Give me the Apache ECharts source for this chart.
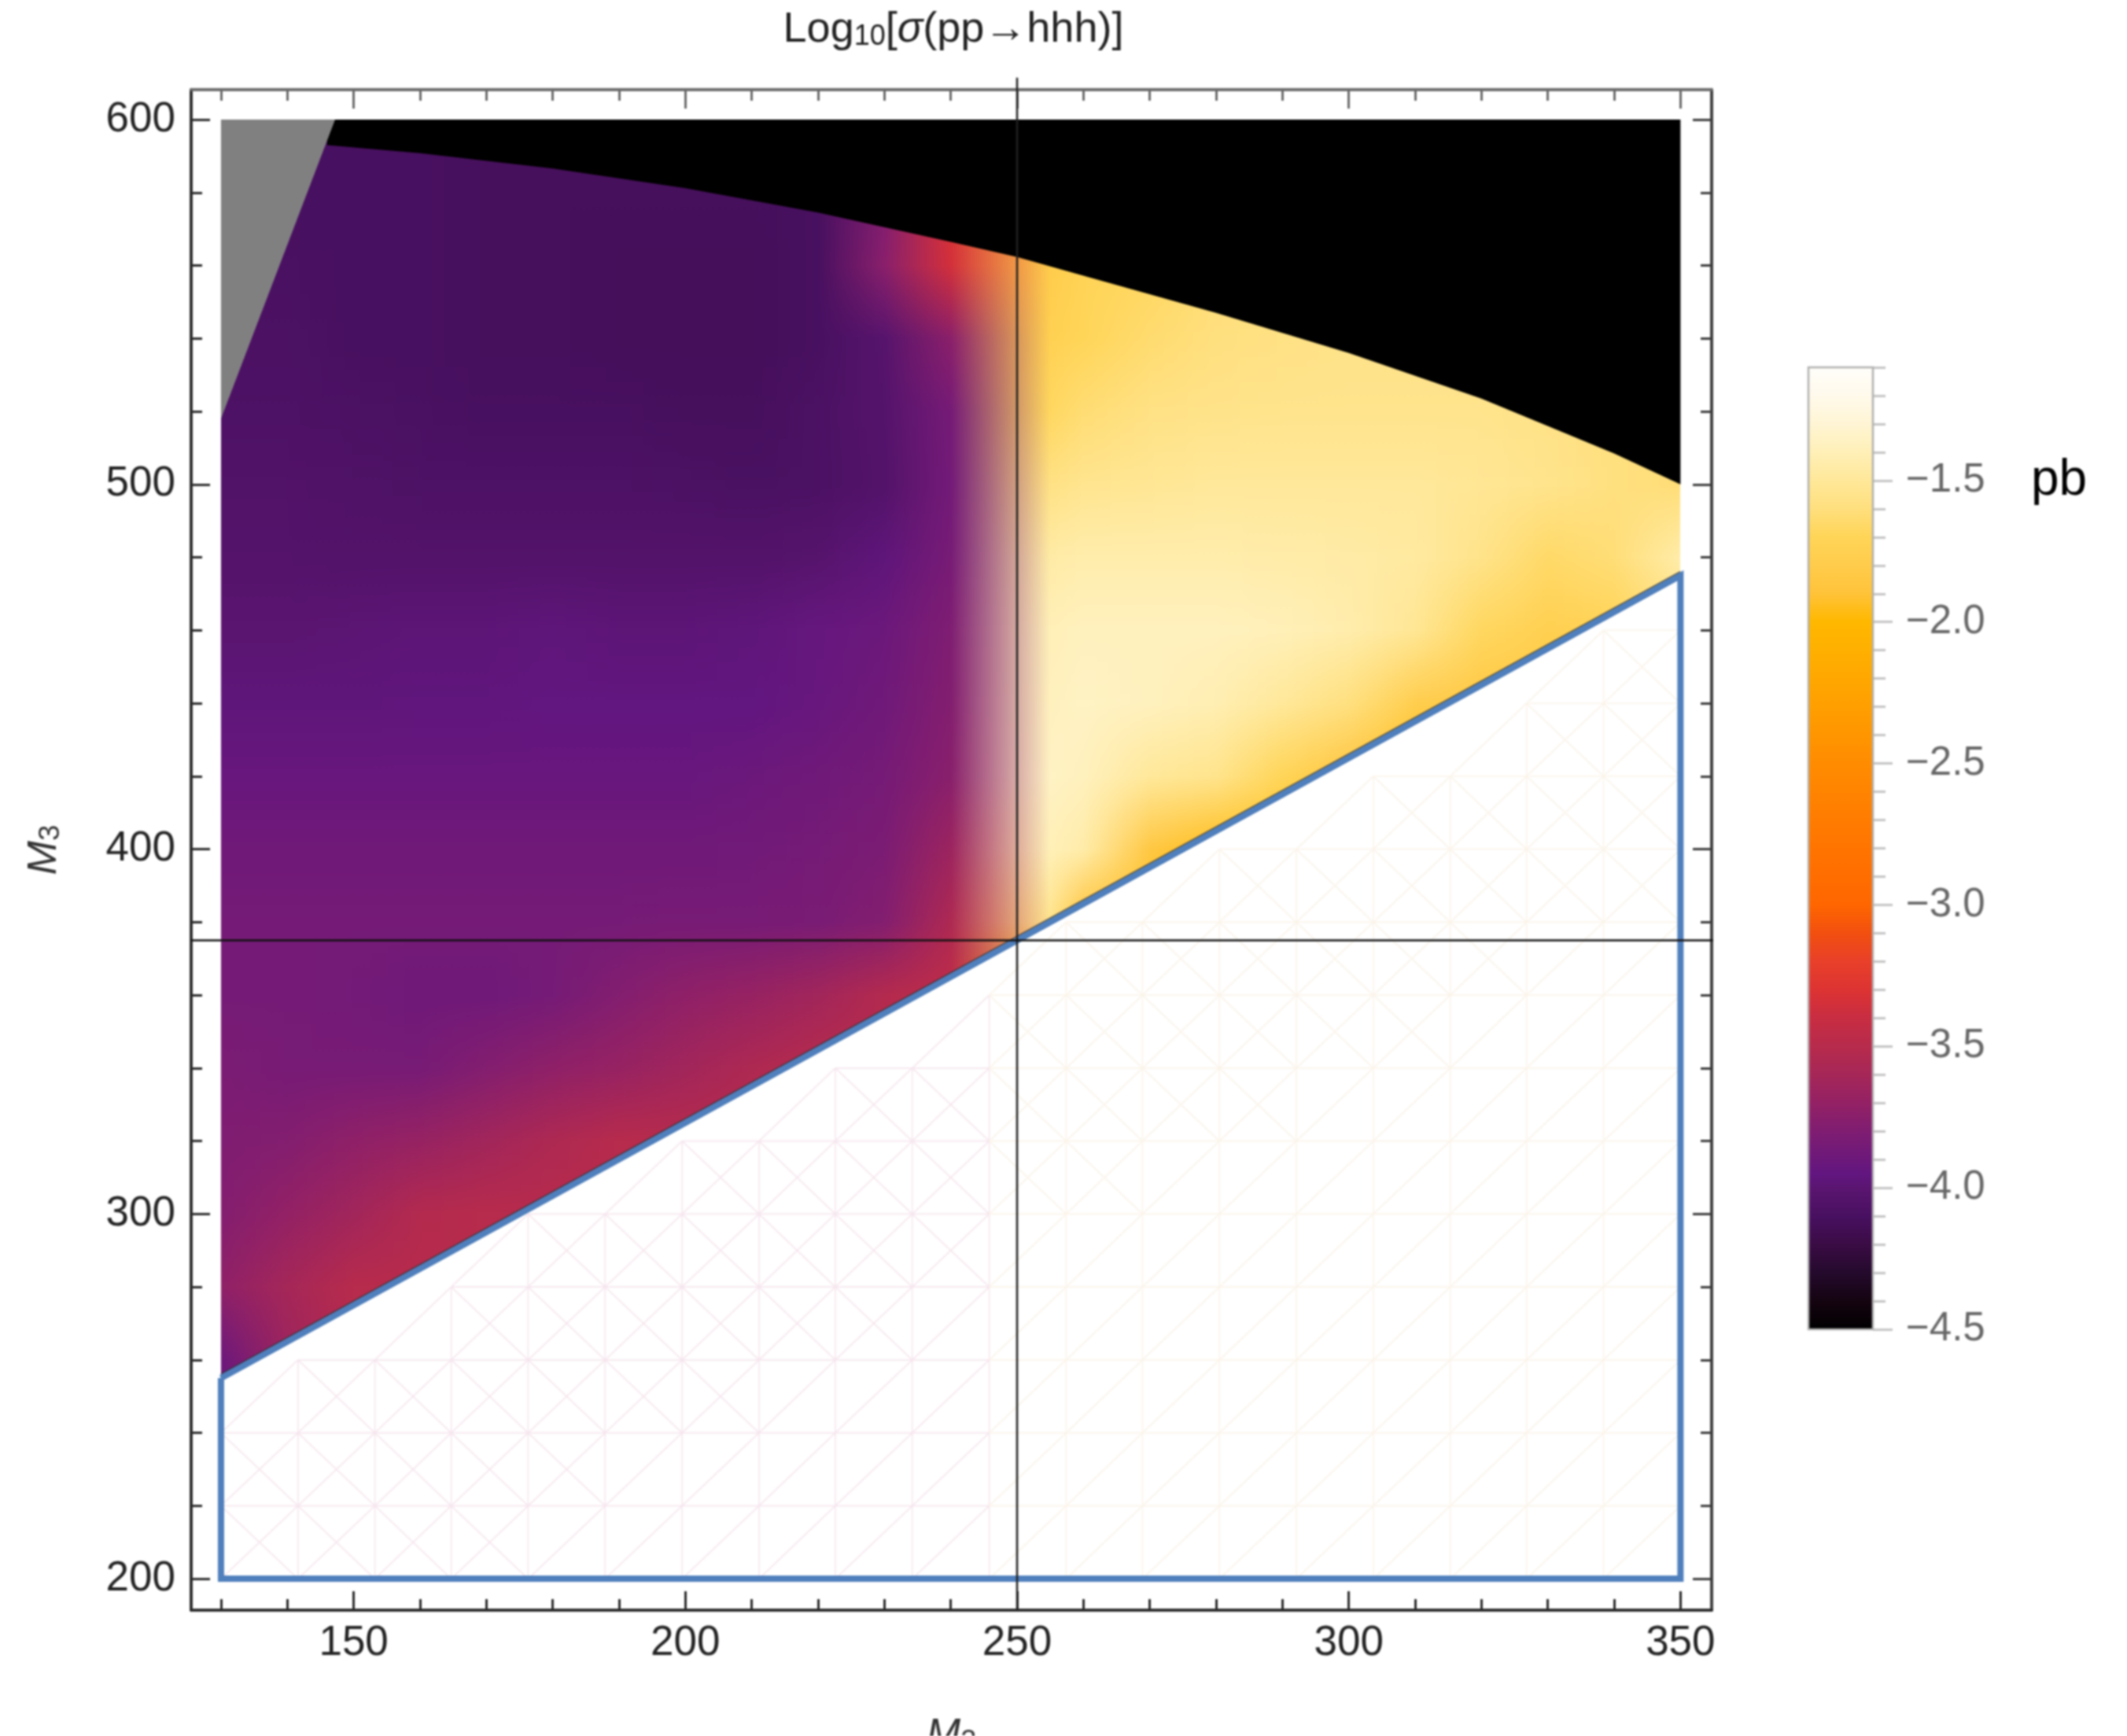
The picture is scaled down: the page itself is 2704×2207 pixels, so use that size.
<!DOCTYPE html>
<html><head><meta charset="utf-8">
<style>html,body{margin:0;padding:0;background:#fff}#chart{width:2704px;height:2207px;filter:blur(1.3px)}</style>
<script src="https://cdn.jsdelivr.net/npm/echarts@6/dist/echarts.min.js"></script>
</head><body><div id="chart"></div>
<script>
// ---- axis ticks
const xMajorTicks=[150,200,250,300,350];
const xMinorTicks=[130,140,160,170,180,190,210,220,230,240,260,270,280,290,310,320,330,340];
const yMajorTicks=[200,300,400,500,600];
const yMinorTicks=[220,240,260,280,320,340,360,380,420,440,460,480,520,540,560,580];
const cbMajorTicks=[-4.5,-4,-3.5,-3,-2.5,-2,-1.5];
const cbMinorTicks=[-4.4,-4.3,-4.2,-4.1,-3.9,-3.8,-3.7,-3.6,-3.4,-3.3,-3.2,-3.1,-2.9,-2.8,-2.7,-2.6,-2.4,-2.3,-2.2,-2.1,-1.9,-1.8,-1.7,-1.6,-1.4,-1.3,-1.2,-1.1];
// ---- colour scale
const scaleValues=[-4.5,-4.4,-4.3,-4.2,-4.1,-4.0,-3.95,-3.8,-3.7,-3.6,-3.5,-3.4,-3.3,-3.2,-3.1,-3.0,-2.75,-2.5,-2.3,-2.1,-2.0,-1.9,-1.8,-1.7,-1.6,-1.5,-1.4,-1.3,-1.2,-1.1];
const scaleColors=['#000000','#140410','#240a2c','#3a0c44','#481060','#5a1570','#621680','#7f1d72','#932165','#a52758','#b72b4c','#c82d42','#dd3333','#e8402a','#f24f10','#ff6600','#ff7800','#ff8c00','#ff9f00','#ffb000','#ffb800','#ffc33a','#ffcc4c','#ffd558','#ffe07f','#ffe89a','#fff0b8','#fff5d5','#fffaec','#fffefa'];
// ---- cross-section: log10 sigma at (M2, M3)
const m2Nodes=[130,140,150,160,170,180,190,200,210,220,230,240,255,260,270,280,290,300,310,320,330,340,350];
const m3Nodes=[600,580,560,540,520,500,480,460,440,420,400,380,360,340,320,300,280,260,240];
const sigma600=[-4.1,-4.1,-4.1,-4.1,-4.11,-4.11,-4.11,-4.11,-4.11,-4.1,-3.8,-3.3,-1.85,-1.75,-1.7,-1.65,-1.65,-1.65,-1.65,-1.65,-1.65,-1.65,-1.65];
const sigma580=[-4.1,-4.1,-4.1,-4.1,-4.11,-4.11,-4.11,-4.11,-4.11,-4.1,-3.8,-3.3,-1.85,-1.75,-1.7,-1.65,-1.65,-1.65,-1.65,-1.65,-1.65,-1.65,-1.65];
const sigma560=[-4.09,-4.09,-4.1,-4.1,-4.11,-4.11,-4.12,-4.12,-4.12,-4.1,-3.75,-3.35,-1.8,-1.72,-1.68,-1.62,-1.6,-1.6,-1.6,-1.6,-1.6,-1.6,-1.6];
const sigma540=[-4.08,-4.08,-4.1,-4.1,-4.11,-4.11,-4.12,-4.12,-4.12,-4.1,-4.02,-3.74,-1.75,-1.7,-1.64,-1.6,-1.58,-1.56,-1.56,-1.56,-1.58,-1.6,-1.6];
const sigma520=[-4.07,-4.07,-4.08,-4.09,-4.1,-4.1,-4.1,-4.11,-4.11,-4.08,-4.03,-3.85,-1.68,-1.63,-1.58,-1.56,-1.55,-1.55,-1.55,-1.55,-1.57,-1.6,-1.62];
const sigma500=[-4.05,-4.05,-4.06,-4.07,-4.07,-4.07,-4.07,-4.08,-4.09,-4.08,-4.04,-3.86,-1.58,-1.54,-1.52,-1.5,-1.5,-1.5,-1.5,-1.52,-1.55,-1.6,-1.62];
const sigma480=[-4.03,-4.03,-4.04,-4.04,-4.04,-4.04,-4.04,-4.04,-4.04,-4.02,-3.97,-3.84,-1.46,-1.44,-1.44,-1.44,-1.45,-1.46,-1.48,-1.56,-1.66,-1.62,-1.45];
const sigma460=[-4.0,-4.0,-3.99,-3.98,-3.98,-3.97,-3.98,-3.98,-3.97,-3.93,-3.9,-3.8,-1.4,-1.38,-1.38,-1.38,-1.4,-1.44,-1.52,-1.68,-1.76,-1.72,-1.6];
const sigma440=[-3.97,-3.97,-3.97,-3.96,-3.96,-3.95,-3.95,-3.95,-3.95,-3.92,-3.88,-3.78,-1.38,-1.36,-1.38,-1.42,-1.5,-1.6,-1.78,-1.85,-1.85,-1.85,-1.85];
const sigma420=[-3.92,-3.92,-3.92,-3.92,-3.92,-3.92,-3.92,-3.92,-3.9,-3.88,-3.85,-3.75,-1.36,-1.38,-1.5,-1.55,-1.7,-1.88,-1.95,-1.95,-1.95,-1.95,-1.95];
const sigma400=[-3.88,-3.88,-3.88,-3.88,-3.88,-3.88,-3.88,-3.88,-3.87,-3.85,-3.82,-3.65,-1.4,-1.45,-1.85,-1.95,-1.95,-1.95,-1.95,-1.95,-1.95,-1.95,-1.95];
const sigma380=[-3.85,-3.85,-3.85,-3.85,-3.85,-3.85,-3.85,-3.84,-3.84,-3.83,-3.78,-3.55,-1.55,-1.9,-1.95,-1.95,-1.95,-1.95,-1.95,-1.95,-1.95,-1.95,-1.95];
const sigma360=[-3.85,-3.85,-3.86,-3.88,-3.88,-3.85,-3.78,-3.72,-3.68,-3.62,-3.52,-3.45,-2.0,-2.0,-2.0,-2.0,-2.0,-2.0,-2.0,-2.0,-2.0,-2.0,-2.0];
const sigma340=[-3.82,-3.84,-3.84,-3.84,-3.78,-3.72,-3.68,-3.62,-3.55,-3.5,-3.5,-3.45,-2.0,-2.0,-2.0,-2.0,-2.0,-2.0,-2.0,-2.0,-2.0,-2.0,-2.0];
const sigma320=[-3.8,-3.78,-3.72,-3.68,-3.62,-3.55,-3.5,-3.5,-3.5,-3.5,-3.5,-3.45,-2.0,-2.0,-2.0,-2.0,-2.0,-2.0,-2.0,-2.0,-2.0,-2.0,-2.0];
const sigma300=[-3.78,-3.7,-3.62,-3.52,-3.5,-3.5,-3.5,-3.5,-3.5,-3.5,-3.5,-3.45,-2.0,-2.0,-2.0,-2.0,-2.0,-2.0,-2.0,-2.0,-2.0,-2.0,-2.0];
const sigma280=[-3.72,-3.6,-3.5,-3.5,-3.5,-3.5,-3.5,-3.5,-3.5,-3.5,-3.5,-3.45,-2.0,-2.0,-2.0,-2.0,-2.0,-2.0,-2.0,-2.0,-2.0,-2.0,-2.0];
const sigma260=[-3.9,-3.65,-3.5,-3.5,-3.5,-3.5,-3.5,-3.5,-3.5,-3.5,-3.5,-3.45,-2.0,-2.0,-2.0,-2.0,-2.0,-2.0,-2.0,-2.0,-2.0,-2.0,-2.0];
const sigma240=[-3.92,-3.7,-3.6,-3.5,-3.5,-3.5,-3.5,-3.5,-3.5,-3.5,-3.5,-3.45,-2.0,-2.0,-2.0,-2.0,-2.0,-2.0,-2.0,-2.0,-2.0,-2.0,-2.0];
const sigmaRows=[sigma600,sigma580,sigma560,sigma540,sigma520,sigma500,sigma480,sigma460,sigma440,sigma420,sigma400,sigma380,sigma360,sigma340,sigma320,sigma300,sigma280,sigma260,sigma240];
// ---- region outlines
const blackEdge=[[146,593],[160,590.8],[180,586.6],[200,581.2],[220,574.5],[240,566.5],[250,562.3],[260,557.2],[280,547],[300,536],[320,523.5],[340,508.5],[350,500],[350,600],[146,600]];
const grayRegion=[[130,600],[147.2,600],[130,518]];
const emptyRegion=[[130,255],[350,475],[350,198],[130,198]];
const blueOutline=[[130,255],[250,375],[350,475],[350,200],[130,200],[130,255]];
const darkEdge=[[130,256],[250,376],[350,476]];
const refVertical=[[250,191.4],[250,611.5]];
const refHorizontal=[[125.5,375],[355.5,375]];
const meshM2=[130,141.6,153.2,164.7,176.3,187.9,199.5,211.1,222.6,234.2,245.8,257.4,268.9,280.5,292.1,303.7,315.3,326.8,338.4,350];
const meshM3=[200,220,240,260,280,300,320,340,360,380,400,420,440,460,480];
const cbLabels={'-4.5':'−4.5','-4':'−4.0','-3.5':'−3.5','-3':'−3.0','-2.5':'−2.5','-2':'−2.0','-1.5':'−1.5'};

const hex=c=>[parseInt(c.slice(1,3),16),parseInt(c.slice(3,5),16),parseInt(c.slice(5,7),16)];
const scaleRgb=scaleColors.map(hex);
function colorOf(v){
  if(v<=scaleValues[0])return scaleRgb[0];
  for(let i=1;i<scaleValues.length;i++){
    if(v<=scaleValues[i]){
      const t=(v-scaleValues[i-1])/(scaleValues[i]-scaleValues[i-1]);
      return scaleRgb[i-1].map((a,k)=>a+(scaleRgb[i][k]-a)*t);
    }
  }
  return scaleRgb[scaleRgb.length-1];
}
const mix=(a,b,t)=>a.map((p,k)=>p+(b[k]-p)*t);
const css=c=>`rgb(${Math.round(c[0])},${Math.round(c[1])},${Math.round(c[2])})`;
const nodeRgb=sigmaRows.map(r=>r.map(colorOf));

// one item per mesh cell; each cell is shaded between its four read colours
const cellData=[];
for(let j=0;j<m3Nodes.length-1;j++)for(let i=0;i<m2Nodes.length-1;i++)cellData.push([m2Nodes[i],m3Nodes[j],i,j]);
function renderCell(params,api){
  const i=api.value(2),j=api.value(3);
  const p0=api.coord([m2Nodes[i],m3Nodes[j]]),p1=api.coord([m2Nodes[i+1],m3Nodes[j+1]]);
  const x0=Math.round(p0[0]),x1=Math.round(p1[0]),y0=Math.round(p0[1]),y1=Math.round(p1[1]);
  const kids=[];
  for(let x=x0;x<x1;x+=3){
    const w=Math.min(3,x1-x),t=(x+w/2-x0)/(x1-x0);
    const top=mix(nodeRgb[j][i],nodeRgb[j][i+1],t),bot=mix(nodeRgb[j+1][i],nodeRgb[j+1][i+1],t);
    kids.push({type:'rect',shape:{x,y:y0,width:w,height:y1-y0},
      style:{fill:{type:'linear',x:0,y:0,x2:0,y2:1,colorStops:[{offset:0,color:css(top)},{offset:1,color:css(bot)}]}},silent:true});
  }
  return {type:'group',children:kids};
}
function polygon(points,fill,z){
  return {type:'custom',xAxisIndex:0,yAxisIndex:0,z,silent:true,clip:false,data:[points[0]],
    renderItem:(p,api)=>({type:'polygon',shape:{points:points.map(q=>api.coord(q))},style:{fill}})};
}
function path(points,color,width,z,opacity){
  return {type:'line',xAxisIndex:0,yAxisIndex:0,data:points,z,silent:true,clip:false,symbol:'none',
    lineStyle:{color,width,opacity:opacity==null?1:opacity,join:'miter'}};
}
function renderMesh(p,api){
  const kids=[];
  const below=(x,y)=>y<=x+125-1;
  const add=(a,b,c,d)=>{
    if(!below(a,b)||!below(c,d))return;
    const s=api.coord([a,b]),e=api.coord([c,d]);
    const col=(a+c)/2<250?'#f6e6ee':'#fbf4ea';
    kids.push({type:'line',shape:{x1:s[0],y1:s[1],x2:e[0],y2:e[1]},style:{stroke:col,lineWidth:1.6}});
  };
  meshM2.forEach((x,i)=>meshM3.forEach((y,j)=>{
    const nx=meshM2[i+1],ny=meshM3[j+1];
    if(ny!=null)add(x,y,x,ny);
    if(nx!=null)add(x,y,nx,y);
    if(nx!=null&&ny!=null){
      add(x,y,nx,ny);
      if(ny>x+125-70)add(x,ny,nx,y);
    }
  }));
  return {type:'group',children:kids};
}
function renderBar(p,api){
  const a=api.coord([0,-1.1]),b=api.coord([1,-4.5]);
  const stops=scaleValues.map((v,i)=>({offset:(-1.1-v)/3.4,color:scaleColors[i]})).reverse();
  return {type:'rect',shape:{x:a[0],y:a[1],width:b[0]-a[0],height:b[1]-a[1]},
    style:{fill:{type:'linear',x:0,y:0,x2:0,y2:1,colorStops:stops},stroke:'#b0b0b0',lineWidth:2.5}};
}
const labelFont='"Liberation Sans",Arial,sans-serif';
function xAxis(position,ticks,len,show,lineColor){
  return {type:'value',gridIndex:0,position,min:125.5,max:354.7,splitLine:{show:false},
    axisLine:{show:true,onZero:false,lineStyle:{color:lineColor,width:3.5}},
    axisTick:{show:true,inside:true,length:len,customValues:ticks,lineStyle:{color:lineColor,width:3}},
    axisLabel:{show,customValues:ticks,margin:16,fontFamily:labelFont,fontSize:53,color:'#222',hideOverlap:false,formatter:v=>String(v)}};
}
function yAxis(position,ticks,len,show,lineColor){
  return {type:'value',gridIndex:0,position,min:191.4,max:608.2,splitLine:{show:false},
    axisLine:{show:true,onZero:false,lineStyle:{color:lineColor,width:3.5}},
    axisTick:{show:true,inside:true,length:len,customValues:ticks,lineStyle:{color:lineColor,width:3}},
    axisLabel:{show,customValues:ticks,margin:20,fontFamily:labelFont,fontSize:53,color:'#222',hideOverlap:false,formatter:v=>String(v)}};
}
const subStyle={fontFamily:labelFont,fontSize:36,color:'#333',verticalAlign:'bottom',padding:[14,0,0,0]};
const xAxes=[
  Object.assign(xAxis('bottom',xMajorTicks,24,true,'#2a2a2a'),{name:'{m|M}{s|2}',nameLocation:'middle',nameGap:134,
    nameTextStyle:{rich:{m:{fontFamily:labelFont,fontStyle:'italic',fontSize:52,color:'#333'},s:subStyle}}}),
  xAxis('bottom',xMinorTicks,14,false,'#2a2a2a'),
  xAxis('top',xMajorTicks,24,false,'#6a6a6a'),
  xAxis('top',xMinorTicks,14,false,'#6a6a6a'),
  {type:'value',gridIndex:1,min:0,max:1,show:false}
];
const yAxes=[
  Object.assign(yAxis('left',yMajorTicks,24,true,'#2a2a2a'),{name:'{m|M}{s|3}',nameLocation:'middle',nameGap:160,
    nameTextStyle:{rich:{m:{fontFamily:labelFont,fontStyle:'italic',fontSize:52,color:'#333'},s:subStyle}}}),
  yAxis('left',yMinorTicks,14,false,'#2a2a2a'),
  yAxis('right',yMajorTicks,24,false,'#3a3a3a'),
  yAxis('right',yMinorTicks,14,false,'#3a3a3a'),
  {type:'value',gridIndex:1,position:'right',min:-4.5,max:-1.1,splitLine:{show:false},
    axisLine:{show:false,onZero:false},
    axisTick:{show:true,length:25,customValues:cbMajorTicks,lineStyle:{color:'#c4c4c4',width:3}},
    axisLabel:{show:true,customValues:cbMajorTicks,margin:42,fontFamily:labelFont,fontSize:51,color:'#666',hideOverlap:false,formatter:v=>cbLabels[String(v)]||''}},
  {type:'value',gridIndex:1,position:'right',min:-4.5,max:-1.1,splitLine:{show:false},
    axisLine:{show:false,onZero:false},
    axisTick:{show:true,length:16,customValues:cbMinorTicks,lineStyle:{color:'#c4c4c4',width:3}},
    axisLabel:{show:false}}
];
const option={
  animation:false,backgroundColor:'#ffffff',
  title:[
    {text:'Log{s|10}[{i|σ}(pp→hhh)]',left:1207,top:6,textAlign:'center',
      textStyle:{fontFamily:labelFont,fontSize:54,fontWeight:'normal',color:'#222',
        rich:{s:{fontFamily:labelFont,fontSize:36,color:'#222',verticalAlign:'bottom',padding:[18,0,0,0]},
              i:{fontFamily:labelFont,fontStyle:'italic',fontSize:54,color:'#222'}}}},
    {text:'pb',left:2577,top:574,textStyle:{fontFamily:labelFont,fontSize:64,fontWeight:'normal',color:'#000'}}
  ],
  grid:[{left:243,top:114,width:1933,height:1933,containLabel:false,outerBoundsMode:'none'},
        {left:2299,top:467,width:82,height:1223,containLabel:false,outerBoundsMode:'none'}],
  xAxis:xAxes,yAxis:yAxes,
  series:[
    {type:'custom',xAxisIndex:0,yAxisIndex:0,z:1,silent:true,clip:false,data:cellData,encode:{x:0,y:1},renderItem:renderCell},
    polygon(emptyRegion,'#ffffff',2),
    {type:'custom',xAxisIndex:0,yAxisIndex:0,z:3,silent:true,clip:false,data:[[130,200]],renderItem:renderMesh},
    polygon(blackEdge,'#000000',4),
    polygon(grayRegion,'#808080',5),
    path(darkEdge,'#333333',2.5,6,0.8),
    path(blueOutline,'#4f7fbc',8,7),
    path(refVertical,'#222222',2.5,8),
    path(refHorizontal,'#111111',2.5,8),
    {type:'custom',xAxisIndex:4,yAxisIndex:4,z:1,silent:true,clip:false,data:[[0,-4.5]],renderItem:renderBar}
  ]
};
echarts.init(document.getElementById('chart'),null,{renderer:'canvas'}).setOption(option);
</script></body></html>
